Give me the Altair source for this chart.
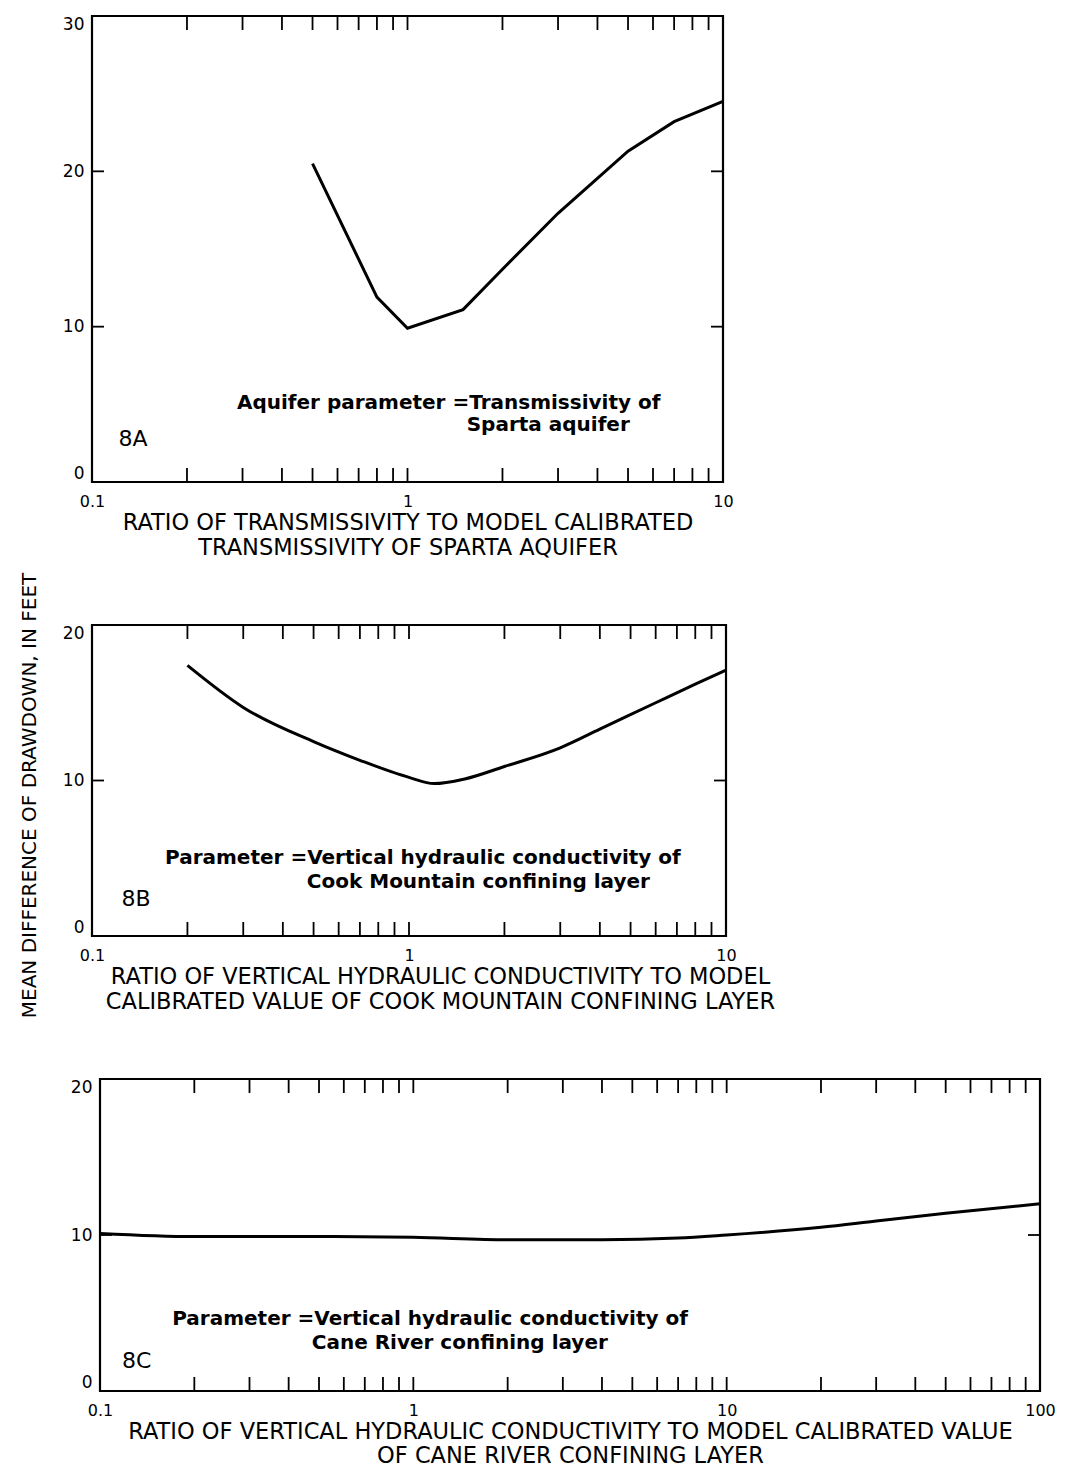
import altair as alt
import pandas as pd

FONT = "DejaVu Sans"

# ---------------- data ----------------
# 8A: ratio of transmissivity vs mean difference of drawdown (ft)
a_x = [0.5, 0.8, 1.0, 1.5, 2.0, 3.0, 5.0, 7.0, 10.0]
a_y = [20.5, 11.9, 9.9, 11.1, 13.7, 17.3, 21.3, 23.2, 24.5]

# 8B: ratio of vertical hydraulic conductivity (Cook Mountain)
b_x = [0.2, 0.3, 0.5, 0.7, 1.0, 1.2, 1.5, 2.0, 3.0, 4.0, 6.0, 8.0, 10.0]
b_y = [17.4, 14.7, 12.5, 11.3, 10.2, 9.8, 10.1, 10.9, 12.1, 13.3, 15.0, 16.2, 17.1]

# 8C: ratio of vertical hydraulic conductivity (Cane River)
c_x = [0.1, 0.2, 0.5, 1.0, 2.0, 4.0, 7.0, 10.0, 20.0, 30.0, 50.0, 100.0]
c_y = [10.1, 9.9, 9.9, 9.85, 9.7, 9.7, 9.8, 10.0, 10.5, 10.9, 11.4, 12.0]

# tick values
ticks_2dec = [0.2, 0.3, 0.4, 0.5, 0.6, 0.7, 0.8, 0.9, 1, 2, 3, 4, 5, 6, 7, 8, 9]
ticks_3dec = ticks_2dec + [10, 20, 30, 40, 50, 60, 70, 80, 90]
labels_2dec = [0.1, 1, 10]
labels_3dec = [0.1, 1, 10, 100]

a_title = ["RATIO OF TRANSMISSIVITY TO MODEL CALIBRATED",
           "TRANSMISSIVITY OF SPARTA AQUIFER"]
b_title = ["RATIO OF VERTICAL HYDRAULIC CONDUCTIVITY TO MODEL",
           "CALIBRATED VALUE OF COOK MOUNTAIN CONFINING LAYER"]
c_title = ["RATIO OF VERTICAL HYDRAULIC CONDUCTIVITY TO MODEL CALIBRATED VALUE",
           "OF CANE RIVER CONFINING LAYER"]
y_title = "MEAN DIFFERENCE OF DRAWDOWN, IN FEET"

a_note = ["Aquifer parameter =Transmissivity of", "Sparta aquifer"]
a_note_x = [0.288, 1.54]
a_note_y = [5.1, 3.65]
b_note = ["Parameter =Vertical hydraulic conductivity of", "Cook Mountain confining layer"]
b_note_x = [0.170, 0.476]
b_note_y = [5.0, 3.5]
c_note = ["Parameter =Vertical hydraulic conductivity of", "Cane River confining layer"]
c_note_x = [0.170, 0.474]
c_note_y = [4.6, 3.1]

tags = ["8A", "8B", "8C"]
tag_x = [0.1213, 0.124, 0.1175]
tag_y = [2.75, 2.4, 1.94]

TICK = 14


def panel(lx, ly, xdom, ydom, xlabels, ylabels, ytick_vals, xtick_vals, w, h,
          xtitle, notes, notes_x, notes_y, tag, tx, ty, interp,
          xtitle_x=None, ytitle=None, title_lh=25, title_pad=2):
    xs = alt.Scale(type="log", domain=xdom, nice=False)
    ys = alt.Scale(domain=ydom, nice=False, zero=False)
    xa = dict(values=xlabels, format="~g", ticks=False, domain=False, grid=False,
              labelFont=FONT, labelFontSize=16, labelColor="black", labelPadding=11,
              labelFlush=False, title=xtitle, titleFont=FONT, titleFontSize=22.5,
              titleFontWeight="normal", titleColor="black", titleLineHeight=title_lh,
              titlePadding=title_pad)
    if xtitle_x is not None:
        xa["titleX"] = xtitle_x
    ya = dict(values=ylabels, format="d", ticks=False, domain=False, grid=False,
              labelFont=FONT, labelFontSize=17, labelColor="black", labelPadding=8,
              labelFlush=True, labelFlushOffset=0)
    if ytitle is not None:
        ya.update(title=ytitle, titleFont=FONT, titleFontSize=20,
                  titleFontWeight="normal", titleColor="black",
                  titleX=-53, titleY=170)
    else:
        ya["title"] = None
    X = alt.X("x:Q", scale=xs, axis=alt.Axis(**xa))
    Y = alt.Y("y:Q", scale=ys, axis=alt.Axis(**ya))

    line = alt.Chart(pd.DataFrame({"x": lx, "y": ly})).mark_line(
        color="black", strokeWidth=3, interpolate=interp).encode(x=X, y=Y)
    xt = pd.DataFrame({"x": xtick_vals})
    top = alt.Chart(xt).mark_rule(color="black", strokeWidth=1.8).encode(
        x=X, y=alt.value(0), y2=alt.value(TICK))
    bot = alt.Chart(xt).mark_rule(color="black", strokeWidth=1.8).encode(
        x=X, y=alt.value(h), y2=alt.value(h - TICK))
    yt = pd.DataFrame({"y": ytick_vals})
    left = alt.Chart(yt).mark_rule(color="black", strokeWidth=1.8).encode(
        y=Y, x=alt.value(0), x2=alt.value(12))
    right = alt.Chart(yt).mark_rule(color="black", strokeWidth=1.8).encode(
        y=Y, x=alt.value(w - 12), x2=alt.value(w))
    nb = alt.Chart(pd.DataFrame({"x": notes_x, "y": notes_y, "label": notes})).mark_text(
        align="left", baseline="middle", font=FONT, fontSize=20, fontWeight="bold",
        color="black").encode(x=X, y=Y, text="label:N")
    tg = alt.Chart(pd.DataFrame({"x": [tx], "y": [ty], "label": [tag]})).mark_text(
        align="left", baseline="middle", font=FONT, fontSize=22, color="black").encode(
        x=X, y=Y, text="label:N")
    return alt.layer(line, top, bot, left, right, nb, tg).properties(width=w, height=h)


pa = panel(a_x, a_y, [0.1, 10], [0, 30], labels_2dec, [0, 10, 20, 30], [10, 20],
           ticks_2dec, 631, 466, a_title, a_note, a_note_x, a_note_y,
           tags[0], tag_x[0], tag_y[0], "linear")
pb = panel(b_x, b_y, [0.1, 10], [0, 20], labels_2dec, [0, 10, 20], [10],
           ticks_2dec, 634, 311, b_title, b_note, b_note_x, b_note_y,
           tags[1], tag_x[1], tag_y[1], "monotone", xtitle_x=348, ytitle=y_title)
pc = panel(c_x, c_y, [0.1, 100], [0, 20], labels_3dec, [0, 10, 20], [10],
           ticks_3dec, 940, 312, c_title, c_note, c_note_x, c_note_y,
           tags[2], tag_x[2], tag_y[2], "monotone", title_lh=24, title_pad=2)

spacer = alt.Chart(pd.DataFrame({"s": [0]})).mark_point(opacity=0).encode(
    x=alt.X("s:Q", axis=None), y=alt.Y("s:Q", axis=None)
).properties(width=8, height=312, view=alt.ViewBackground(stroke="transparent"))

chart = alt.vconcat(
    pa, pb, alt.hconcat(spacer, pc, spacing=0, bounds="flush"),
    spacing=143, bounds="flush"
).properties(
    padding={"left": 9, "top": 5, "right": 0, "bottom": 0}
).configure_view(stroke="black", strokeWidth=2.2)

chart.save("out.html", embed_options={"renderer": "svg", "actions": False})
